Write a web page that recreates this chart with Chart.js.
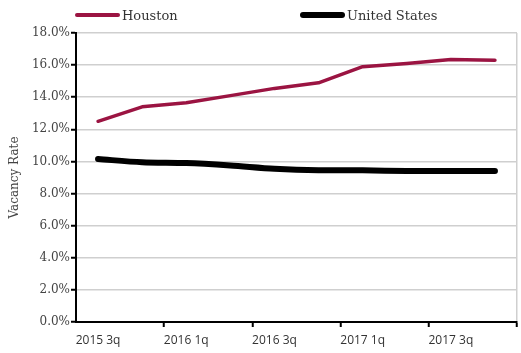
<!DOCTYPE html>
<html><head><meta charset="utf-8">
<script src="https://cdn.jsdelivr.net/npm/chart.js@4/dist/chart.umd.min.js"></script>
<style>
html,body{margin:0;padding:0;background:#fff;}
#wrap{position:relative;width:521px;height:353px;}
#legend{position:absolute;left:0;top:0;width:521px;height:30px;font-family:"DejaVu Serif",serif;font-size:13px;color:#333;}
.item{position:absolute;top:6px;display:flex;align-items:center;height:18px;white-space:nowrap;}
.sw{display:inline-block;width:45px;border-radius:4px;margin-right:2px;}
</style></head>
<body>
<div id="wrap"><canvas id="c" width="521" height="353"></canvas><div id="legend"></div></div>
<script>
const categories = ['2015 3q','2015 4q','2016 1q','2016 2q','2016 3q','2016 4q','2017 1q','2017 2q','2017 3q','2017 4q'];
const houston = [12.5, 13.4, 13.65, 14.1, 14.55, 14.9, 15.9, 16.1, 16.35, 16.3];
const unitedStates = [10.15, 9.95, 9.9, 9.75, 9.55, 9.45, 9.45, 9.4, 9.4, 9.4];
const seriesNames = ['Houston', 'United States'];
const yMin = 0, yMax = 18, yStep = 2;

const legendLeft = [75, 300];
const legendThickness = [4, 6];

const chart = new Chart(document.getElementById('c'), {
  type: 'line',
  data: {
    labels: categories,
    datasets: [
      { label: seriesNames[0], data: houston, borderColor: '#9b1442', backgroundColor: '#9b1442',
        borderWidth: 3.5, pointRadius: 0, tension: 0, borderCapStyle: 'round', borderJoinStyle: 'round' },
      { label: seriesNames[1], data: unitedStates, borderColor: '#000', backgroundColor: '#000',
        borderWidth: 6, pointRadius: 0, tension: 0.3, borderCapStyle: 'round', borderJoinStyle: 'round' }
    ]
  },
  options: {
    responsive: false,
    animation: false,
    devicePixelRatio: 1,
    layout: { padding: { top: 33, right: 4, bottom: 0, left: 0 } },
    plugins: { legend: { display: false }, tooltip: { enabled: false } },
    scales: {
      x: {
        type: 'category',
        offset: true,
        border: { display: true, color: '#000', width: 2 },
        grid: {
          offset: true,
          drawOnChartArea: true,
          color: ctx => (ctx.index === undefined ? '#cfcfcf' : 'transparent'),
          lineWidth: 1.5,
          tickLength: 5,
          tickWidth: 2,
          tickColor: ctx => (ctx.index === undefined || (ctx.index % 2 === 0 && ctx.index > 0)) ? '#000' : 'transparent'
        },
        ticks: {
          autoSkip: false, maxRotation: 0, minRotation: 0, padding: 6,
          color: '#333',
          font: { family: '"Open Sans", sans-serif', size: 12 },
          callback: function(v, i) { return i % 2 === 0 ? categories[i] : ''; }
        },
        afterFit: s => { s.height = 31; }
      },
      y: {
        min: yMin, max: yMax,
        border: { display: true, color: '#000', width: 2 },
        grid: { color: '#cfcfcf', lineWidth: 1.5, tickLength: 5, tickWidth: 2, tickColor: '#000' },
        ticks: {
          stepSize: yStep, padding: 1, color: '#444',
          font: { family: '"DejaVu Serif", serif', size: 12 },
          callback: v => v.toFixed(1) + '%'
        },
        title: { display: true, text: 'Vacancy Rate', color: '#444',
          font: { family: '"DejaVu Serif", serif', size: 12 }, padding: { top: 8, bottom: 0 } },
        afterFit: s => { s.width = 76; }
      }
    }
  }
});

const lg = document.getElementById('legend');
chart.data.datasets.forEach((ds, i) => {
  const it = document.createElement('div');
  it.className = 'item';
  it.style.left = legendLeft[i] + 'px';
  const sw = document.createElement('span');
  sw.className = 'sw';
  sw.style.height = legendThickness[i] + 'px';
  sw.style.background = ds.borderColor;
  const tx = document.createElement('span');
  tx.textContent = ds.label;
  it.appendChild(sw); it.appendChild(tx);
  lg.appendChild(it);
});
</script>
</body></html>
